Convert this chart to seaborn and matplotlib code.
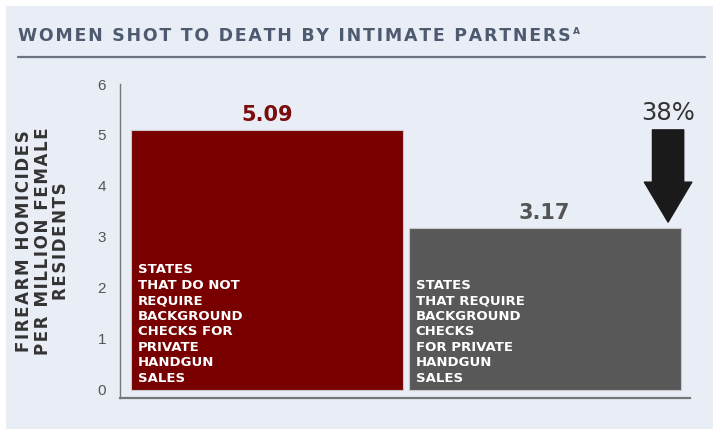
"""
Women shot to death by intimate partners - bar chart recreation
"""
import matplotlib
matplotlib.use("Agg")
import matplotlib.pyplot as plt
import matplotlib.patches as mpatches
import seaborn as sns
import pandas as pd

# data
groups = ["no_checks", "checks"]
rates = [5.09, 3.17]
value_labels = ["5.09", "3.17"]
bar_texts = [
    "STATES\nTHAT DO NOT\nREQUIRE\nBACKGROUND\nCHECKS FOR\nPRIVATE\nHANDGUN\nSALES",
    "STATES\nTHAT REQUIRE\nBACKGROUND\nCHECKS\nFOR PRIVATE\nHANDGUN\nSALES",
]
y_ticks = [0, 1, 2, 3, 4, 5, 6]
reduction_label = "38%"

title = "WOMEN SHOT TO DEATH BY INTIMATE PARTNERS"
title_note = "A"
y_label = "FIREARM HOMICIDES\nPER MILLION FEMALE\nRESIDENTS"

bar_colors = ["#780000", "#585858"]
label_colors = ["#7a0c0c", "#555555"]
bg = "#e9edf6"


def spaced(s, gap="\u200a"):
    # fake letter spacing with hair spaces between characters
    return "\n".join(gap.join(line) for line in s.split("\n"))


sns.set_theme(style="white")
plt.rcParams["font.family"] = ["DejaVu Sans"]

W, H = 713, 429
fig = plt.figure(figsize=(W / 100, H / 100), dpi=100)
fig.patch.set_facecolor(bg)
# thin white border along the top and left
fig.patches.append(mpatches.Rectangle((0, 1 - 6 / H), 1, 6 / H, transform=fig.transFigure,
                                      facecolor="white", edgecolor="none"))
fig.patches.append(mpatches.Rectangle((0, 0), 6 / W, 1, transform=fig.transFigure,
                                      facecolor="white", edgecolor="none"))

# title and rule
t = fig.text(18 / W, 1 - 36 / H, spaced(title), fontsize=12.5, fontweight="bold", color="#4d5a70",
             va="center", ha="left")
fig.canvas.draw()
bb = t.get_window_extent()
fig.text((bb.x1 + 2) / W, 1 - 31 / H, title_note, fontsize=6.5, fontweight="bold",
         color="#4d5a70", va="center", ha="left")
fig.add_artist(plt.Line2D([18 / W, 705 / W], [1 - 57 / H, 1 - 57 / H], transform=fig.transFigure,
                          color="#6b7280", lw=1.6))

ax = fig.add_axes([120 / W, 31 / H, 570 / W, 314 / H])
ax.set_facecolor(bg)

df = pd.DataFrame({"group": groups, "rate": rates})
sns.barplot(data=df, x="group", y="rate", hue="group", palette=bar_colors, width=0.98,
            saturation=1, legend=False, ax=ax, edgecolor="#c8c8c8", linewidth=0.8)

ax.set_xlim(-0.53, 1.524)
ax.set_ylim(-0.16, 6.0)
ax.set_yticks(y_ticks)
ax.set_yticklabels([str(t) for t in y_ticks], fontsize=11, color="#555555",
                   family="Liberation Sans")
ax.tick_params(axis="y", length=0, pad=10)
ax.set_xticks([])
ax.set_xlabel("")
ax.set_ylabel(spaced(y_label), fontsize=12, fontweight="bold", color="#333333",
              linespacing=1.02)
ax.yaxis.set_label_coords(-0.088, 0.5)

for side in ["top", "right"]:
    ax.spines[side].set_visible(False)
ax.spines["left"].set_color("#777777")
ax.spines["bottom"].set_color("#777777")
ax.spines["left"].set_linewidth(1.0)
ax.spines["bottom"].set_linewidth(1.6)

for i, (v, lab) in enumerate(zip(rates, value_labels)):
    ax.text(i, v + 0.3, lab, ha="center", va="center", fontsize=15, fontweight="bold",
            color=label_colors[i])
    ax.text(i - 0.465, 0.1, bar_texts[i], ha="left", va="bottom", fontsize=9.5,
            fontweight="bold", color="white", linespacing=1.25)

# arrow showing the reduction
arrow_x = 1.445
ax.annotate("", xy=(arrow_x, 3.29), xytext=(arrow_x, 5.10),
            arrowprops=dict(arrowstyle="simple,head_width=1.9,head_length=1.6,tail_width=1.25",
                            color="#1a1a1a", mutation_scale=18, shrinkA=0, shrinkB=0))
ax.text(arrow_x, 5.43, reduction_label, ha="center", va="center", fontsize=17.5,
        color="#333333")

fig.savefig("out.png", dpi=100, facecolor=fig.get_facecolor())
